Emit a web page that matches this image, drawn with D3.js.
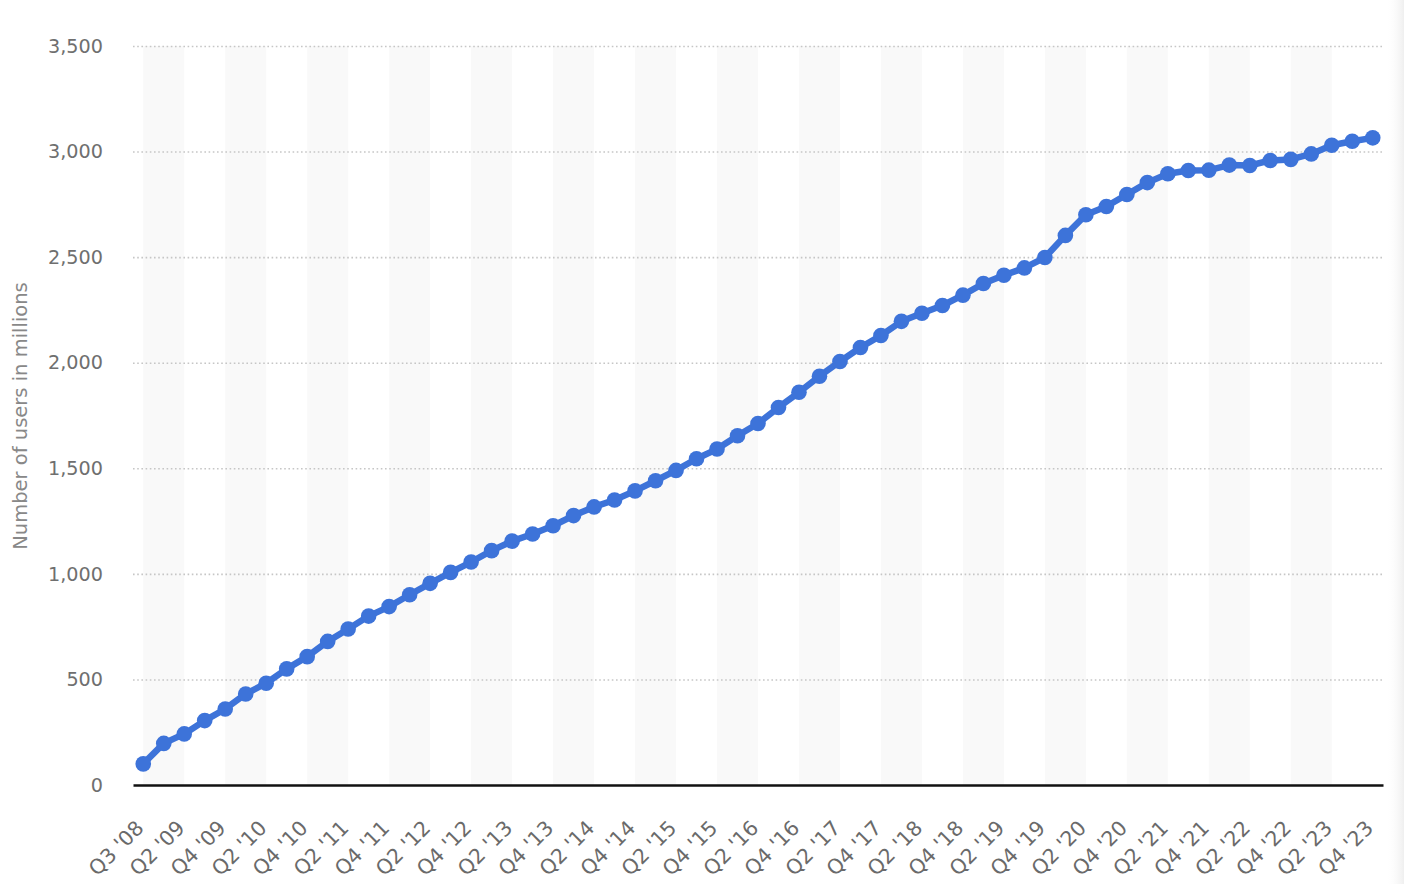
<!DOCTYPE html>
<html>
<head>
<meta charset="utf-8">
<script src="https://cdn.jsdelivr.net/npm/d3@7"></script>
<style>
  html, body { margin: 0; padding: 0; background: #fff; }
  #chart { width: 1404px; height: 884px; }
</style>
</head>
<body>
<div id="chart"></div>
<script>
const quarters = [
  "Q3 '08",
  "Q1 '09", "Q2 '09", "Q3 '09", "Q4 '09",
  "Q1 '10", "Q2 '10", "Q3 '10", "Q4 '10",
  "Q1 '11", "Q2 '11", "Q3 '11", "Q4 '11",
  "Q1 '12", "Q2 '12", "Q3 '12", "Q4 '12",
  "Q1 '13", "Q2 '13", "Q3 '13", "Q4 '13",
  "Q1 '14", "Q2 '14", "Q3 '14", "Q4 '14",
  "Q1 '15", "Q2 '15", "Q3 '15", "Q4 '15",
  "Q1 '16", "Q2 '16", "Q3 '16", "Q4 '16",
  "Q1 '17", "Q2 '17", "Q3 '17", "Q4 '17",
  "Q1 '18", "Q2 '18", "Q3 '18", "Q4 '18",
  "Q1 '19", "Q2 '19", "Q3 '19", "Q4 '19",
  "Q1 '20", "Q2 '20", "Q3 '20", "Q4 '20",
  "Q1 '21", "Q2 '21", "Q3 '21", "Q4 '21",
  "Q1 '22", "Q2 '22", "Q3 '22", "Q4 '22",
  "Q1 '23", "Q2 '23", "Q3 '23", "Q4 '23"
];

const users = [
  100,
  197, 242, 305, 360,
  431, 482, 550, 608,
  680, 739, 800, 845,
  901, 955, 1007, 1056,
  1110, 1155, 1189, 1228,
  1276, 1317, 1350, 1393,
  1441, 1490, 1545, 1591,
  1654, 1712, 1788, 1860,
  1936, 2006, 2072, 2129,
  2196, 2234, 2271, 2320,
  2375, 2414, 2449, 2498,
  2603, 2701, 2740, 2797,
  2853, 2895, 2910, 2912,
  2936, 2934, 2958, 2963,
  2989, 3030, 3049, 3065
];

const yTicks = [0, 500, 1000, 1500, 2000, 2500, 3000, 3500];
const yTitle = "Number of users in millions";

const width = 1404;
const height = 884;
const margin = { top: 46, right: 21, bottom: 99, left: 133 };
const innerWidth = width - margin.left - margin.right;
const innerHeight = height - margin.top - margin.bottom;
const font = "'DejaVu Sans', Verdana, sans-serif";
const blue = "#3d73d9";

const svg = d3
  .select("#chart")
  .append("svg")
  .attr("width", width)
  .attr("height", height)
  .attr("viewBox", `0 0 ${width} ${height}`);

// faint panel shadow on the right edge
const defs = svg.append("defs");
const grad = defs.append("linearGradient").attr("id", "edge").attr("x1", 0).attr("x2", 1);
grad.append("stop").attr("offset", "0%").attr("stop-color", "#fff").attr("stop-opacity", 0);
grad.append("stop").attr("offset", "100%").attr("stop-color", "#efefef").attr("stop-opacity", 1);
svg.append("rect")
  .attr("x", width - 18)
  .attr("y", 0)
  .attr("width", 18)
  .attr("height", height)
  .attr("fill", "url(#edge)");

const chart = svg
  .append("g")
  .attr("transform", `translate(${margin.left}, ${margin.top})`);

const x = d3
  .scalePoint()
  .domain(quarters)
  .range([0, innerWidth])
  .padding(0.5);

const y = d3
  .scaleLinear()
  .domain([0, 3500])
  .range([innerHeight, 0]);

// alternating background bands, every other labelled interval
const bandStarts = quarters.filter((_, i) => i % 4 === 0 && i + 2 < quarters.length);
chart
  .append("g")
  .selectAll("rect")
  .data(bandStarts)
  .enter()
  .append("rect")
  .attr("x", (d) => x(d))
  .attr("y", y(3500))
  .attr("width", (d) => x(quarters[quarters.indexOf(d) + 2]) - x(d))
  .attr("height", y(0) - y(3500))
  .attr("fill", "#f9f9f9");

// y axis with dotted grid
chart
  .append("g")
  .call(
    d3.axisLeft(y)
      .tickValues(yTicks)
      .tickSize(-innerWidth)
      .tickPadding(30)
      .tickFormat(d3.format(",")),
  )
  .call((g) => g.select(".domain").remove())
  .call((g) => g.selectAll(".tick line")
    .attr("stroke", "#c6c6c6")
    .attr("stroke-width", 1.6)
    .attr("stroke-dasharray", "1.6,2.6"))
  .call((g) => g.selectAll(".tick")
    .filter((d) => d === 0)
    .select("line")
    .remove())
  .call((g) => g.selectAll(".tick text")
    .attr("fill", "#6f6f6f")
    .attr("font-family", font)
    .attr("font-size", 19.2));

// x axis
const labelled = quarters.filter((_, i) => i % 2 === 0);
chart
  .append("g")
  .attr("transform", `translate(0, ${innerHeight})`)
  .call(d3.axisBottom(x).tickValues(labelled).tickSize(0))
  .call((g) => g.select(".domain")
    .attr("stroke", "#111")
    .attr("stroke-width", 2.4))
  .call((g) => g.selectAll(".tick text")
    .attr("fill", "#6a6a6a")
    .attr("font-family", font)
    .attr("font-size", 20.5)
    .attr("text-anchor", "end")
    .attr("dy", "0.35em")
    .attr("transform", "translate(-6, 37) rotate(-45)"));

// axis title
svg
  .append("text")
  .attr("transform", "translate(27, 416) rotate(-90)")
  .attr("text-anchor", "middle")
  .attr("fill", "#888")
  .attr("font-family", font)
  .attr("font-size", 19.5)
  .text(yTitle);

// line and markers
const line = d3
  .line()
  .x((d, i) => x(quarters[i]))
  .y((d) => y(d));

chart
  .append("path")
  .datum(users)
  .attr("fill", "none")
  .attr("stroke", blue)
  .attr("stroke-width", 6.5)
  .attr("stroke-linejoin", "round")
  .attr("d", line);

chart
  .append("g")
  .selectAll("circle")
  .data(users)
  .enter()
  .append("circle")
  .attr("cx", (d, i) => x(quarters[i]))
  .attr("cy", (d) => y(d))
  .attr("r", 7.8)
  .attr("fill", blue);
</script>
</body>
</html>
